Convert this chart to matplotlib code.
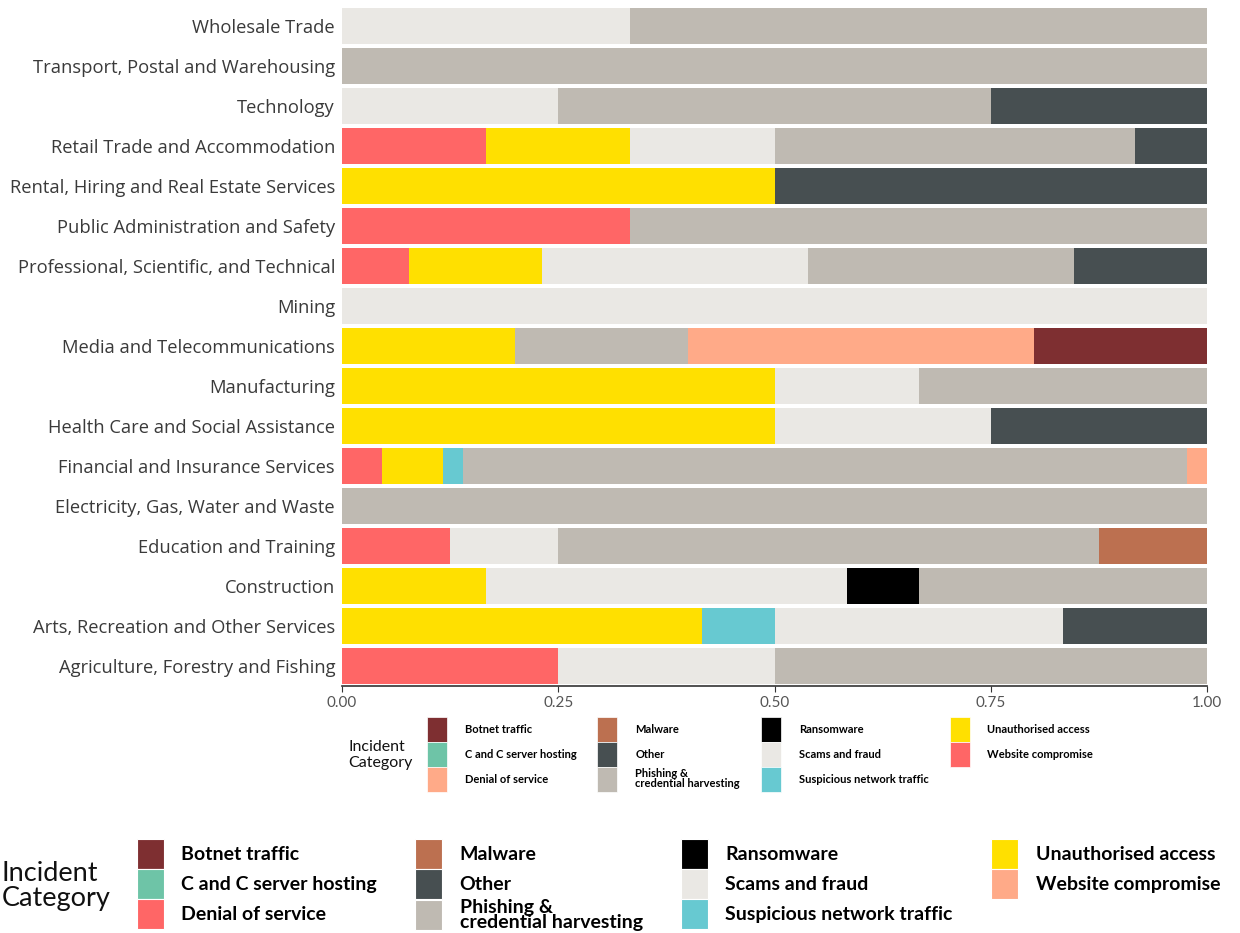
import matplotlib
matplotlib.use("Agg")
import matplotlib.pyplot as plt
from matplotlib.patches import Patch

plt.rcParams['font.family'] = ['Lato', 'DejaVu Sans']

industries = [
    "Agriculture, Forestry and Fishing",
    "Arts, Recreation and Other Services",
    "Construction",
    "Education and Training",
    "Electricity, Gas, Water and Waste",
    "Financial and Insurance Services",
    "Health Care and Social Assistance",
    "Manufacturing",
    "Media and Telecommunications",
    "Mining",
    "Professional, Scientific, and Technical",
    "Public Administration and Safety",
    "Rental, Hiring and Real Estate Services",
    "Retail Trade and Accommodation",
    "Technology",
    "Transport, Postal and Warehousing",
    "Wholesale Trade",
]

# proportions per industry (same order as industries)
website_compromise = [0.25, 0, 0, 0.125, 0, 0.0465, 0, 0, 0, 0, 0.0769, 0.3333, 0, 0.1667, 0, 0, 0]
unauthorised_access = [0, 0.4167, 0.1667, 0, 0, 0.0698, 0.5, 0.5, 0.2, 0, 0.1538, 0, 0.5, 0.1667, 0, 0, 0]
suspicious_traffic = [0, 0.0833, 0, 0, 0, 0.0233, 0, 0, 0, 0, 0, 0, 0, 0, 0, 0, 0]
scams_fraud = [0.25, 0.3333, 0.4167, 0.125, 0, 0, 0.25, 0.1667, 0, 1.0, 0.3077, 0, 0, 0.1667, 0.25, 0, 0.3333]
ransomware = [0, 0, 0.0833, 0, 0, 0, 0, 0, 0, 0, 0, 0, 0, 0, 0, 0, 0]
phishing = [0.5, 0, 0.3333, 0.625, 1.0, 0.8372, 0, 0.3333, 0.2, 0, 0.3077, 0.6667, 0, 0.4167, 0.5, 1.0, 0.6667]
other = [0, 0.1667, 0, 0, 0, 0, 0.25, 0, 0, 0, 0.1538, 0, 0.5, 0.0833, 0.25, 0, 0]
malware = [0, 0, 0, 0.125, 0, 0, 0, 0, 0, 0, 0, 0, 0, 0, 0, 0, 0]
denial_of_service = [0, 0, 0, 0, 0, 0.0233, 0, 0, 0.4, 0, 0, 0, 0, 0, 0, 0, 0]
c_and_c = [0] * 17
botnet = [0, 0, 0, 0, 0, 0, 0, 0, 0.2, 0, 0, 0, 0, 0, 0, 0, 0]

categories = ["Botnet traffic", "C and C server hosting", "Denial of service", "Malware",
              "Other", "Phishing &\ncredential harvesting", "Ransomware", "Scams and fraud",
              "Suspicious network traffic", "Unauthorised access", "Website compromise"]
colors = ["#7E2F31", "#6EC4A7", "#FFAA88", "#BC7050", "#474F51", "#BFBAB2", "#000000",
          "#EAE8E4", "#67C9D1", "#FFE000", "#FF6666"]
series = [botnet, c_and_c, denial_of_service, malware, other, phishing, ransomware,
          scams_fraud, suspicious_traffic, unauthorised_access, website_compromise]

fig = plt.figure(figsize=(12.4, 9.33), dpi=100)
ax = fig.add_axes([342/1240, 1-686/933, 865/1240, 680/933])

y = list(range(len(industries)))
left = [0.0] * len(industries)
# stack in reverse alphabetical order from the left
for name, col, vals in reversed(list(zip(categories, colors, series))):
    ax.barh(y, vals, left=left, height=0.9, color=col, linewidth=0)
    left = [a + b for a, b in zip(left, vals)]

ax.set_xlim(0, 1)
ax.set_ylim(-0.5, len(industries) - 0.5)
ax.set_yticks(y)
ax.set_yticklabels(industries, fontsize=13.2, color="#3A3A3A", family=['Open Sans', 'DejaVu Sans'])
ax.set_xticks([0, 0.25, 0.5, 0.75, 1.0])
ax.set_xticklabels(["0.00", "0.25", "0.50", "0.75", "1.00"], fontsize=11, color="#555555")
ax.tick_params(axis='y', length=0, pad=5)
ax.tick_params(axis='x', length=4, color="#333333", pad=3)
for s in ["top", "right", "left"]:
    ax.spines[s].set_visible(False)
ax.spines["bottom"].set_color("#333333")
ax.spines["bottom"].set_linewidth(1.2)

# small legend (attached to plot)
small_handles = [Patch(facecolor=c, edgecolor='white', linewidth=0.5) for c in colors]
leg1 = fig.legend(small_handles, categories, loc='upper left',
                  bbox_to_anchor=(419/1240, 1-709/933), ncol=4, frameon=False,
                  handlelength=1.8, handleheight=3.1, labelspacing=0.0,
                  handletextpad=1.6, columnspacing=1.9, borderpad=0.2,
                  prop={'size': 8, 'weight': 'bold'})
for t in leg1.get_texts():
    t.set_linespacing(0.95)
fig.text(348/1240, 1-755/933, "Incident\nCategory", fontsize=11.5, color="#111111",
         va='center', ha='left', linespacing=1.2)

# big legend at the bottom (colours as in the reference)
big_colors = ["#7E2F31", "#6EC4A7", "#FF6666", "#BC7050", "#474F51", "#BFBAB2", "#000000",
              "#EAE8E4", "#67C9D1", "#FFE000", "#FFAA88"]
big_handles = [Patch(facecolor=c, edgecolor='white', linewidth=0.8) for c in big_colors]
leg2 = fig.legend(big_handles, categories, loc='upper left',
                  bbox_to_anchor=(123/1240, 1-825/933), ncol=4, frameon=False,
                  handlelength=1.4, handleheight=2.0, labelspacing=0.0,
                  handletextpad=0.9, columnspacing=1.95, borderpad=0.2,
                  prop={'size': 14, 'weight': 'bold'})
for t in leg2.get_texts():
    t.set_linespacing(0.85)
fig.text(2/1240, 1-886/933, "Incident\nCategory", fontsize=19.5, color="#111111",
         va='center', ha='left', linespacing=1.0)

fig.savefig("out.png", dpi=100)
